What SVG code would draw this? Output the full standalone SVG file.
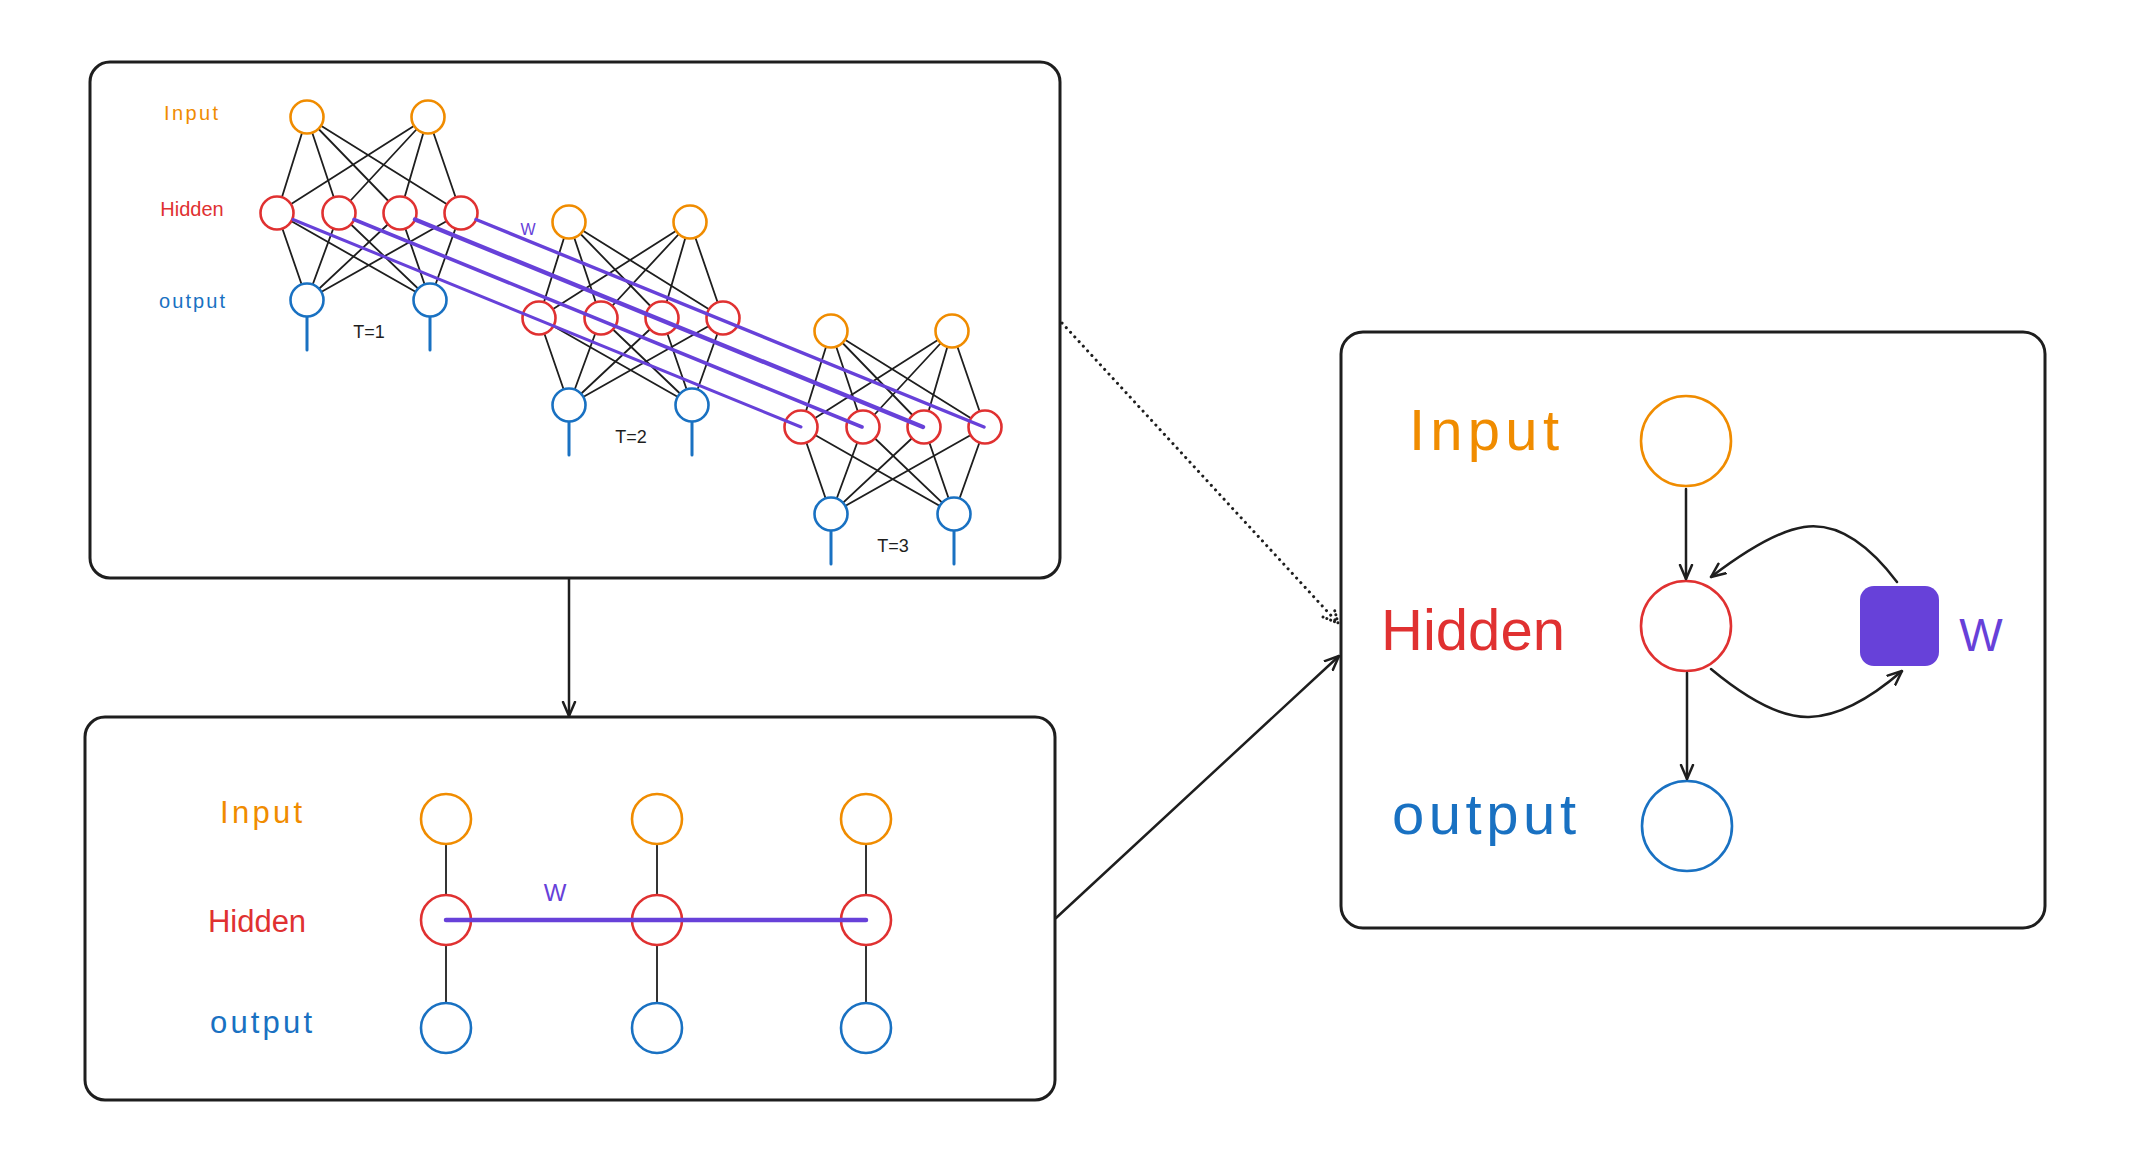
<svg xmlns="http://www.w3.org/2000/svg" width="2146" height="1156" viewBox="0 0 2146 1156">
<style>
.box{fill:#fff;stroke:#1e1e1e;stroke-width:3}
.e{stroke:#1e1e1e;stroke-width:1.8;stroke-linecap:round}
.ci{fill:#fff;stroke:#f08c00;stroke-width:2.6}
.ch{fill:#fff;stroke:#e03131;stroke-width:2.6}
.co{fill:#fff;stroke:#1971c2;stroke-width:2.6}
.stem{stroke:#1971c2;stroke-width:3;stroke-linecap:round}
.pw{stroke:#6741d9;stroke-linecap:round;fill:none}
.t{font-family:"Liberation Sans",Arial,sans-serif;text-anchor:middle}
.ti{fill:#f08c00}.th{fill:#e03131}.to{fill:#1971c2}.tw{fill:#6741d9}.tk{fill:#1e1e1e}
.conn{stroke:#1e1e1e;stroke-width:2.5;fill:none;stroke-linecap:round}
</style>
<defs>
<marker id="arr" viewBox="0 0 16 16" refX="15" refY="8" markerWidth="16" markerHeight="16" markerUnits="userSpaceOnUse" orient="auto">
<path d="M1,2 L15,8 L1,14" fill="none" stroke="#1e1e1e" stroke-width="2.5" stroke-linecap="round" stroke-linejoin="round"/>
</marker>
</defs>
<rect width="2146" height="1156" fill="#fff"/>

<!-- Top box: unrolled detailed network -->
<g id="box-unrolled-detailed">
<rect class="box" x="90" y="62" width="970" height="516" rx="20"/>
<text class="t ti" x="191" y="120" font-size="20" textLength="54" lengthAdjust="spacing">Input</text>
<text class="t th" x="192" y="216" font-size="20">Hidden</text>
<text class="t to" x="192" y="308" font-size="20" textLength="66" lengthAdjust="spacing">output</text>
</g>

<g id="t1">
<g class="edges">
<line class="e" x1="307" y1="117" x2="277" y2="213"/><line class="e" x1="307" y1="117" x2="339" y2="213"/><line class="e" x1="307" y1="117" x2="400" y2="213"/><line class="e" x1="307" y1="117" x2="461" y2="213"/>
<line class="e" x1="428" y1="117" x2="277" y2="213"/><line class="e" x1="428" y1="117" x2="339" y2="213"/><line class="e" x1="428" y1="117" x2="400" y2="213"/><line class="e" x1="428" y1="117" x2="461" y2="213"/>
<line class="e" x1="277" y1="213" x2="307" y2="300"/><line class="e" x1="339" y1="213" x2="307" y2="300"/><line class="e" x1="400" y1="213" x2="307" y2="300"/><line class="e" x1="461" y1="213" x2="307" y2="300"/>
<line class="e" x1="277" y1="213" x2="430" y2="300"/><line class="e" x1="339" y1="213" x2="430" y2="300"/><line class="e" x1="400" y1="213" x2="430" y2="300"/><line class="e" x1="461" y1="213" x2="430" y2="300"/>
<line class="stem" x1="307" y1="317" x2="307" y2="350"/><line class="stem" x1="430" y1="317" x2="430" y2="350"/>
</g>
<g id="t1-in1"><circle class="ci" cx="307" cy="117" r="16.5"/></g>
<g id="t1-in2"><circle class="ci" cx="428" cy="117" r="16.5"/></g>
<g id="t1-h1"><circle class="ch" cx="277" cy="213" r="16.5"/></g>
<g id="t1-h2"><circle class="ch" cx="339" cy="213" r="16.5"/></g>
<g id="t1-h3"><circle class="ch" cx="400" cy="213" r="16.5"/></g>
<g id="t1-h4"><circle class="ch" cx="461" cy="213" r="16.5"/></g>
<g id="t1-o1"><circle class="co" cx="307" cy="300" r="16.5"/></g>
<g id="t1-o2"><circle class="co" cx="430" cy="300" r="16.5"/></g>
<text class="t tk" x="369" y="338" font-size="18">T=1</text>
</g>

<g id="t2" transform="translate(262,105)">
<g class="edges">
<line class="e" x1="307" y1="117" x2="277" y2="213"/><line class="e" x1="307" y1="117" x2="339" y2="213"/><line class="e" x1="307" y1="117" x2="400" y2="213"/><line class="e" x1="307" y1="117" x2="461" y2="213"/>
<line class="e" x1="428" y1="117" x2="277" y2="213"/><line class="e" x1="428" y1="117" x2="339" y2="213"/><line class="e" x1="428" y1="117" x2="400" y2="213"/><line class="e" x1="428" y1="117" x2="461" y2="213"/>
<line class="e" x1="277" y1="213" x2="307" y2="300"/><line class="e" x1="339" y1="213" x2="307" y2="300"/><line class="e" x1="400" y1="213" x2="307" y2="300"/><line class="e" x1="461" y1="213" x2="307" y2="300"/>
<line class="e" x1="277" y1="213" x2="430" y2="300"/><line class="e" x1="339" y1="213" x2="430" y2="300"/><line class="e" x1="400" y1="213" x2="430" y2="300"/><line class="e" x1="461" y1="213" x2="430" y2="300"/>
<line class="stem" x1="307" y1="317" x2="307" y2="350"/><line class="stem" x1="430" y1="317" x2="430" y2="350"/>
</g>
<g id="t2-in1"><circle class="ci" cx="307" cy="117" r="16.5"/></g>
<g id="t2-in2"><circle class="ci" cx="428" cy="117" r="16.5"/></g>
<g id="t2-h1"><circle class="ch" cx="277" cy="213" r="16.5"/></g>
<g id="t2-h2"><circle class="ch" cx="339" cy="213" r="16.5"/></g>
<g id="t2-h3"><circle class="ch" cx="400" cy="213" r="16.5"/></g>
<g id="t2-h4"><circle class="ch" cx="461" cy="213" r="16.5"/></g>
<g id="t2-o1"><circle class="co" cx="307" cy="300" r="16.5"/></g>
<g id="t2-o2"><circle class="co" cx="430" cy="300" r="16.5"/></g>
<text class="t tk" x="369" y="338" font-size="18">T=2</text>
</g>

<g id="t3" transform="translate(524,214)">
<g class="edges">
<line class="e" x1="307" y1="117" x2="277" y2="213"/><line class="e" x1="307" y1="117" x2="339" y2="213"/><line class="e" x1="307" y1="117" x2="400" y2="213"/><line class="e" x1="307" y1="117" x2="461" y2="213"/>
<line class="e" x1="428" y1="117" x2="277" y2="213"/><line class="e" x1="428" y1="117" x2="339" y2="213"/><line class="e" x1="428" y1="117" x2="400" y2="213"/><line class="e" x1="428" y1="117" x2="461" y2="213"/>
<line class="e" x1="277" y1="213" x2="307" y2="300"/><line class="e" x1="339" y1="213" x2="307" y2="300"/><line class="e" x1="400" y1="213" x2="307" y2="300"/><line class="e" x1="461" y1="213" x2="307" y2="300"/>
<line class="e" x1="277" y1="213" x2="430" y2="300"/><line class="e" x1="339" y1="213" x2="430" y2="300"/><line class="e" x1="400" y1="213" x2="430" y2="300"/><line class="e" x1="461" y1="213" x2="430" y2="300"/>
<line class="stem" x1="307" y1="317" x2="307" y2="350"/><line class="stem" x1="430" y1="317" x2="430" y2="350"/>
</g>
<g id="t3-in1"><circle class="ci" cx="307" cy="117" r="16.5"/></g>
<g id="t3-in2"><circle class="ci" cx="428" cy="117" r="16.5"/></g>
<g id="t3-h1"><circle class="ch" cx="277" cy="213" r="16.5"/></g>
<g id="t3-h2"><circle class="ch" cx="339" cy="213" r="16.5"/></g>
<g id="t3-h3"><circle class="ch" cx="400" cy="213" r="16.5"/></g>
<g id="t3-h4"><circle class="ch" cx="461" cy="213" r="16.5"/></g>
<g id="t3-o1"><circle class="co" cx="307" cy="300" r="16.5"/></g>
<g id="t3-o2"><circle class="co" cx="430" cy="300" r="16.5"/></g>
<text class="t tk" x="369" y="338" font-size="18">T=3</text>
</g>

<g id="recurrent-weights">
<line class="pw" stroke-width="3" x1="293" y1="219.5" x2="801" y2="427"/>
<line class="pw" stroke-width="3.6" x1="354" y1="219.5" x2="862" y2="427"/>
<line class="pw" stroke-width="4.4" x1="415" y1="219.5" x2="923" y2="427"/>
<line class="pw" stroke-width="3.4" x1="476" y1="219.5" x2="984" y2="427"/>
<text class="t tw" x="528" y="235" font-size="16">W</text>
</g>

<!-- Bottom box: unrolled compact -->
<g id="box-unrolled-compact">
<rect class="box" x="85" y="717" width="970" height="383" rx="20"/>
<text class="t ti" x="261" y="823" font-size="31" textLength="82" lengthAdjust="spacing">Input</text>
<text class="t th" x="257" y="932" font-size="31">Hidden</text>
<text class="t to" x="261" y="1033" font-size="31" textLength="102" lengthAdjust="spacing">output</text>
<g class="edges">
<line class="e" stroke-width="2.2" x1="446" y1="844" x2="446" y2="895"/><line class="e" stroke-width="2.2" x1="446" y1="945" x2="446" y2="1003"/>
<line class="e" stroke-width="2.2" x1="657" y1="844" x2="657" y2="895"/><line class="e" stroke-width="2.2" x1="657" y1="945" x2="657" y2="1003"/>
<line class="e" stroke-width="2.2" x1="866" y1="844" x2="866" y2="895"/><line class="e" stroke-width="2.2" x1="866" y1="945" x2="866" y2="1003"/>
</g>
<g id="c-in1"><circle class="ci" cx="446" cy="819" r="25"/></g>
<g id="c-in2"><circle class="ci" cx="657" cy="819" r="25"/></g>
<g id="c-in3"><circle class="ci" cx="866" cy="819" r="25"/></g>
<g id="c-h1"><circle class="ch" cx="446" cy="920" r="25"/></g>
<g id="c-h2"><circle class="ch" cx="657" cy="920" r="25"/></g>
<g id="c-h3"><circle class="ch" cx="866" cy="920" r="25"/></g>
<g id="c-o1"><circle class="co" cx="446" cy="1028" r="25"/></g>
<g id="c-o2"><circle class="co" cx="657" cy="1028" r="25"/></g>
<g id="c-o3"><circle class="co" cx="866" cy="1028" r="25"/></g>
<line class="pw" stroke-width="4.5" x1="446" y1="920" x2="866" y2="920"/>
<text class="t tw" x="555" y="901" font-size="24">W</text>
</g>

<!-- Right box: folded RNN -->
<g id="box-folded">
<rect class="box" x="1341" y="332" width="704" height="596" rx="22"/>
<text class="t ti" x="1484" y="450" font-size="58" textLength="150" lengthAdjust="spacing">Input</text>
<text class="t th" x="1473" y="650" font-size="58">Hidden</text>
<text class="t to" x="1484" y="834" font-size="58" textLength="184" lengthAdjust="spacing">output</text>
<g id="f-in"><circle class="ci" cx="1686" cy="441" r="45"/></g>
<g id="f-h"><circle class="ch" cx="1686" cy="626" r="45"/></g>
<g id="f-o"><circle class="co" cx="1687" cy="826" r="45"/></g>
<g id="f-w"><rect x="1860" y="586" width="79" height="80" rx="14" fill="#6741d9"/></g>
<text class="t tw" x="1981" y="651" font-size="46">W</text>
</g>

<g id="connectors">
<line class="conn" x1="1686" y1="489" x2="1686" y2="579" marker-end="url(#arr)"/>
<line class="conn" x1="1687" y1="673" x2="1687" y2="779" marker-end="url(#arr)"/>
<path class="conn" stroke-width="3" d="M1897,582 Q1850,520 1804,527 Q1770,532 1711,577" marker-end="url(#arr)"/>
<path class="conn" stroke-width="3" d="M1711,669 Q1770,718 1809,717 Q1850,716 1902,671" marker-end="url(#arr)"/>
<line class="conn" x1="569" y1="579" x2="569" y2="716" marker-end="url(#arr)"/>
<line class="conn" x1="1056" y1="918" x2="1339" y2="656" marker-end="url(#arr)"/>
<line x1="1062" y1="323" x2="1337" y2="622" stroke="#1e1e1e" stroke-width="3" stroke-linecap="round" stroke-dasharray="0.1 6.2"/>
<path d="M1323,617 L1338,623 L1334,608" fill="none" stroke="#1e1e1e" stroke-width="3" stroke-linecap="round" stroke-dasharray="0.1 4"/>
</g>
</svg>
